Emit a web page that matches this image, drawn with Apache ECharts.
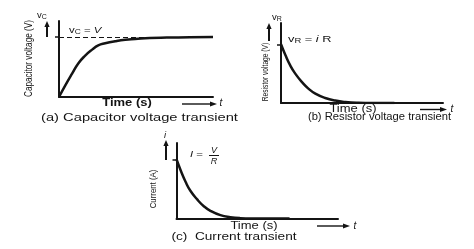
<!DOCTYPE html>
<html>
<head>
<meta charset="utf-8">
<script src="https://cdn.jsdelivr.net/npm/echarts@6/dist/echarts.min.js"></script>
<style>html,body{margin:0;padding:0;background:#fff}#c{width:474px;height:249px}</style>
</head>
<body>
<div id="c"></div>
<script>
// (a) capacitor voltage transient, v/V against time
var tA = [0, 0.4, 0.85, 1.25, 1.7, 2.15, 2.55, 3.0, 3.65, 4.3, 4.95, 5.9, 7.0, 8.5, 10];
var vA = [0, 0.19, 0.39, 0.56, 0.69, 0.79, 0.86, 0.895, 0.93, 0.955, 0.967, 0.983, 0.99, 0.996, 1.0];
// (b) resistor voltage transient
var tB = [0, 0.27, 0.57, 0.88, 1.28, 1.69, 2.12, 2.73, 3.35, 3.97, 4.77, 6.0, 7.0];
var vB = [1.0, 0.817, 0.64, 0.50, 0.36, 0.245, 0.16, 0.086, 0.041, 0.017, 0.005, 0.001, 0];
// (c) current transient
var tC = [0, 0.25, 0.56, 0.86, 1.28, 1.69, 2.10, 2.72, 3.33, 3.95, 4.75, 6.0, 7.0];
var iC = [1.0, 0.819, 0.621, 0.468, 0.322, 0.208, 0.129, 0.056, 0.022, 0.006, 0.001, 0, 0];
// marked level on each vertical axis (V, iR, V/R)
var markLevel = [1];
var yNames = ['Capacitor voltage (V)', 'Resistor voltage (V)', 'Current (A)'];
var xName = 'Time (s)';
var captions = ['(a) Capacitor voltage transient', '(b) Resistor voltage transient', '(c)  Current transient'];

var INK = '#141414';
var FF = '"Liberation Sans", Arial, sans-serif';

function pairs(t, v) { return t.map(function (x, i) { return [x, v[i]]; }); }

var grids = [
  { left: 59, top: 21, width: 154, height: 76 },
  { left: 281, top: 23, width: 162, height: 80 },
  { left: 176.5, top: 143, width: 161.5, height: 75.5 }
];
var yMax = [1.267, 1.363, 1.275];

var xAxes = grids.map(function (g, i) {
  return {
    type: 'value', gridIndex: i, min: 0, max: 10,
    axisLine: { show: true, lineStyle: { color: INK, width: 2 } },
    axisTick: { show: false }, axisLabel: { show: false }, splitLine: { show: false }
  };
});
var yAxes = grids.map(function (g, i) {
  return {
    type: 'value', gridIndex: i, min: 0, max: yMax[i],
    axisLine: { show: true, lineStyle: { color: INK, width: 2 } },
    axisTick: { show: true, customValues: markLevel, length: 4, lineStyle: { color: INK, width: 1.5 } },
    axisLabel: { show: false }, splitLine: { show: false }
  };
});

var lineBase = {
  type: 'line', showSymbol: false, smooth: 0.5, silent: true,
  lineStyle: { color: INK, width: 2.5 }, animation: false
};
var series = [
  Object.assign({}, lineBase, {
    xAxisIndex: 0, yAxisIndex: 0, data: pairs(tA, vA),
    markLine: {
      silent: true, symbol: ['none', 'none'], label: { show: false },
      lineStyle: { color: INK, width: 1.2, type: [5, 3] },
      data: [{ yAxis: markLevel[0] }], animation: false
    }
  }),
  Object.assign({}, lineBase, { xAxisIndex: 1, yAxisIndex: 1, data: pairs(tB, vB) }),
  Object.assign({}, lineBase, { xAxisIndex: 2, yAxisIndex: 2, data: pairs(tC, iC) })
];

function txt(x, y, text, size, opts) {
  opts = opts || {};
  return {
    type: 'text', x: x, y: y, rotation: opts.rot || 0, scaleX: opts.sx || 1,
    style: {
      text: text, fontSize: size, fontFamily: FF, fontStyle: opts.italic ? 'italic' : 'normal',
      fontWeight: opts.bold ? 'bold' : 'normal', fill: INK,
      align: opts.align || 'center', textAlign: opts.align || 'center',
      verticalAlign: 'middle', textVerticalAlign: 'middle', rich: opts.rich
    }
  };
}
function upArrow(x, yBot, yTop) {
  return [
    { type: 'line', shape: { x1: x, y1: yBot, x2: x, y2: yTop + 4 }, style: { stroke: INK, lineWidth: 2 } },
    { type: 'polygon', shape: { points: [[x - 2.6, yTop + 6], [x + 2.6, yTop + 6], [x, yTop]] }, style: { fill: INK } }
  ];
}
function rightArrow(x0, x1, y) {
  return [
    { type: 'line', shape: { x1: x0, y1: y, x2: x1 - 4, y2: y }, style: { stroke: INK, lineWidth: 1.4 } },
    { type: 'polygon', shape: { points: [[x1 - 7, y - 2.6], [x1 - 7, y + 2.6], [x1, y]] }, style: { fill: INK } }
  ];
}
var richV = {
  v: { fontSize: 9.5, fontFamily: FF, fill: INK },
  s: { fontSize: 7, fontFamily: FF, fill: INK, padding: [4, 0, 0, 0] },
  n: { fontSize: 9.5, fontFamily: FF, fill: INK },
  it: { fontSize: 9.5, fontFamily: FF, fontStyle: 'italic', fill: INK }
};

var g = [];
// (a)
g.push(txt(42, 15.5, '{v|v}{s|C}', 9, { rich: richV }));
g = g.concat(upArrow(47, 37, 21));
g.push(txt(69, 30, '{v|v}{s|C}{n| = }{it|V}', 9, { rich: richV, align: 'left', sx: 1.2 }));
g.push(txt(29, 58.5, yNames[0], 10, { rot: Math.PI / 2, sx: 0.82 }));
g.push(txt(127, 103.5, xName, 10, { sx: 1.3, bold: true }));
g = g.concat(rightArrow(182, 217, 104));
g.push(txt(221, 103.5, 't', 10, { italic: true }));
g.push(txt(139.5, 118, captions[0], 10.5, { sx: 1.4 }));
// (b)
g.push(txt(277, 17, '{v|v}{s|R}', 9, { rich: richV }));
g = g.concat(upArrow(269, 41, 23));
g.push(txt(288, 39, '{v|v}{s|R}{n| = }{it|i}{n| R}', 9, { rich: richV, align: 'left', sx: 1.35 }));
g.push(txt(265.5, 72, yNames[1], 9.5, { rot: Math.PI / 2, sx: 0.7 }));
g.push(txt(353, 109.5, xName, 10, { sx: 1.3 }));
g = g.concat(rightArrow(420, 447, 109.5));
g.push(txt(452, 109.5, 't', 10, { italic: true }));
g.push(txt(379.5, 117.5, captions[1], 10, { sx: 1.12 }));
// (c)
g.push(txt(165, 135, 'i', 9.5, { italic: true }));
g = g.concat(upArrow(166, 160, 140));
g.push(txt(190, 154.5, '{it|I}{n| =}', 9, { rich: richV, align: 'left', sx: 1.2 }));
g.push(txt(214, 150, 'V', 9, { italic: true }));
g.push({ type: 'line', shape: { x1: 209, y1: 155.5, x2: 219, y2: 155.5 }, style: { stroke: INK, lineWidth: 1 } });
g.push(txt(214, 161, 'R', 9, { italic: true }));
g.push(txt(153.7, 189, yNames[2], 9.5, { rot: Math.PI / 2, sx: 0.82 }));
g.push(txt(254, 226, xName, 10, { sx: 1.3 }));
g = g.concat(rightArrow(317, 350, 226));
g.push(txt(355, 226, 't', 10, { italic: true }));
g.push(txt(234, 237, captions[2], 10.5, { sx: 1.3 }));

var chart = echarts.init(document.getElementById('c'), null, { renderer: 'canvas' });
chart.setOption({
  animation: false,
  backgroundColor: '#fff',
  grid: grids.map(function (gr) { return Object.assign({ containLabel: false, outerBoundsMode: 'none' }, gr); }),
  xAxis: xAxes,
  yAxis: yAxes,
  series: series,
  graphic: { elements: g }
});
</script>
</body>
</html>
